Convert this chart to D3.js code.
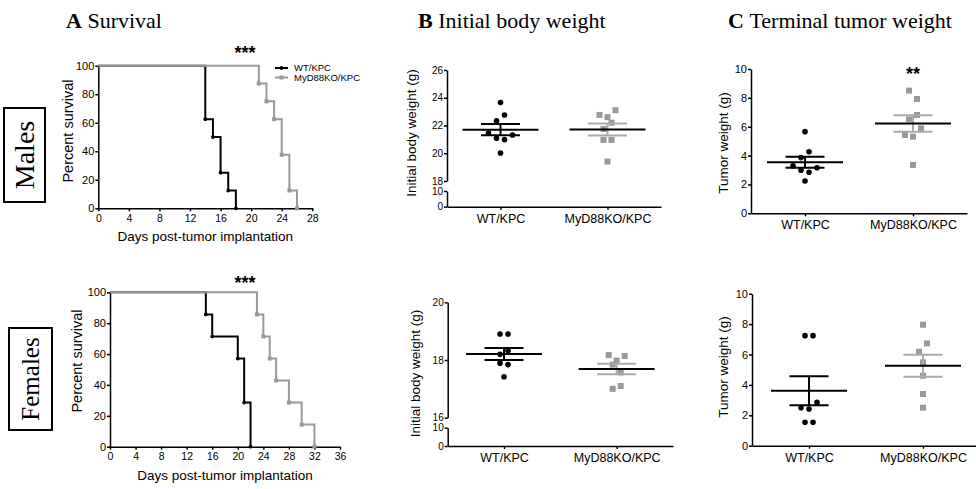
<!DOCTYPE html>
<html>
<head>
<meta charset="utf-8">
<script src="https://cdn.jsdelivr.net/npm/d3@7"></script>
<style>
  body { margin: 0; background: #fff; }
  svg { display: block; }
</style>
</head>
<body>
<div id="chart"></div>
<script>
// survival / body weight / tumor weight figure, Males + Females rows

const SANS = "'Liberation Sans', Arial, sans-serif";
const SERIF = "'Liberation Serif', 'Times New Roman', serif";
const GRAY = "#999";
const GRAY_BAR = "#aaa";

// --- data ---
const groups = ["WT/KPC", "MyD88KO/KPC"];

// Kaplan-Meier steps (day, % survival)
const maleWtDays = [0, 14, 15, 16, 17, 18];
const maleWtSurv = [100, 62.5, 50, 25, 12.5, 0];
const maleKoDays = [0, 21, 22, 23, 24, 25, 26];
const maleKoSurv = [100, 87.5, 75, 62.5, 37.5, 12.5, 0];
const femaleWtDays = [0, 15, 16, 20, 21, 22];
const femaleWtSurv = [100, 85.7, 71.4, 57.1, 28.6, 0];
const femaleKoDays = [0, 23, 24, 25, 26, 28, 30, 32];
const femaleKoSurv = [100, 85.7, 71.4, 57.1, 42.9, 28.6, 14.3, 0];

const maleDayTicks = [0, 4, 8, 12, 16, 20, 24, 28];
const femaleDayTicks = [0, 4, 8, 12, 16, 20, 24, 28, 32, 36];
const survTicks = [0, 20, 40, 60, 80, 100];

// initial body weight (g)
const maleBwWt = [23.65, 22.33, 22.76, 21.46, 21.08, 20.98, 21.32, 20.02];
const maleBwKo = [22.76, 22.6, 23.1, 21.75, 22.2, 20.96, 20.96, 19.4];
const femaleBwWt = [18.9, 18.9, 18.2, 18.32, 17.89, 17.84, 17.42];
const femaleBwKo = [18.17, 17.98, 18.14, 17.84, 17.57, 17.0, 17.1];
const maleBwTicks = [18, 20, 22, 24, 26];
const femaleBwTicks = [16, 18, 20];
const breakTicks = [0, 10];

// terminal tumor weight (g)
const maleTumorWt = [5.66, 3.86, 4.27, 3.3, 2.98, 2.84, 3.16, 2.24];
const maleTumorKo = [8.5, 7.92, 6.51, 6.81, 5.43, 5.31, 5.89, 3.35];
const femaleTumorWt = [7.24, 7.24, 2.5, 2.41, 2.85, 1.54, 1.54];
const femaleTumorKo = [7.96, 6.18, 6.73, 5.48, 4.6, 3.4, 2.5];
const tumorTicks = [0, 2, 4, 6, 8, 10];

const svg = d3.select("#chart").append("svg")
  .attr("width", 976)
  .attr("height", 489);

function styleAxis(sel, fs) {
  sel.attr("font-family", SANS).attr("font-size", fs);
  sel.select(".domain").attr("stroke", "#000").attr("stroke-width", 1.5);
  sel.selectAll(".tick line").attr("stroke", "#000").attr("stroke-width", 1.5);
  sel.selectAll(".tick text").attr("fill", "#000");
}

function yTitle(g, text, x, y, fs) {
  g.append("text")
    .attr("transform", `translate(${x},${y}) rotate(-90)`)
    .attr("text-anchor", "middle")
    .attr("font-family", SANS)
    .attr("font-size", fs)
    .text(text);
}

// --- survival panels ---
function survivalPanel(o) {
  const g = svg.append("g");
  const x = d3.scaleLinear().domain([0, o.maxDay]).range(o.xr);
  const y = d3.scaleLinear().domain([0, 100]).range(o.yr);

  g.append("g")
    .attr("transform", `translate(0,${o.yr[0]})`)
    .call(d3.axisBottom(x).tickValues(o.dayTicks).tickSize(3).tickSizeOuter(0).tickPadding(3))
    .call(styleAxis, 10.5);
  g.append("g")
    .attr("transform", `translate(${o.xr[0]},0)`)
    .call(d3.axisLeft(y).tickValues(survTicks).tickSize(3).tickSizeOuter(0).tickPadding(1))
    .call(styleAxis, 11);

  const line = d3.line().x(d => x(d[0])).y(d => y(d[1])).curve(d3.curveStepAfter);

  o.series.forEach(s => {
    const pts = s.days.map((d, i) => [d, s.surv[i]]);
    g.append("path")
      .datum(pts)
      .attr("d", line)
      .attr("fill", "none")
      .attr("stroke", s.color)
      .attr("stroke-width", 2);
    const ev = pts.slice(1);
    if (s.shape === "circle") {
      g.selectAll(null).data(ev).enter().append("circle")
        .attr("cx", d => x(d[0])).attr("cy", d => y(d[1])).attr("r", 1.9)
        .attr("fill", s.color);
    } else {
      g.selectAll(null).data(ev).enter().append("rect")
        .attr("x", d => x(d[0]) - 2).attr("y", d => y(d[1]) - 2)
        .attr("width", 4).attr("height", 4)
        .attr("fill", s.color);
    }
  });

  g.append("text")
    .attr("x", o.star[0]).attr("y", o.star[1])
    .attr("text-anchor", "middle")
    .attr("font-family", SANS).attr("font-size", 18).attr("font-weight", "bold")
    .text("***");

  yTitle(g, "Percent survival", o.yTitle[0], o.yTitle[1], 14.5);
  g.append("text")
    .attr("x", (o.xr[0] + o.xr[1]) / 2).attr("y", o.xTitleY)
    .attr("text-anchor", "middle")
    .attr("font-family", SANS).attr("font-size", 13.5)
    .text("Days post-tumor implantation");

  if (o.legend) {
    const lg = g.append("g").attr("transform", `translate(${o.legend[0]},${o.legend[1]})`);
    o.series.forEach((s, i) => {
      const row = lg.append("g").attr("transform", `translate(0,${i * 9.5})`);
      row.append("line").attr("x1", 0).attr("x2", 13).attr("y1", 0).attr("y2", 0)
        .attr("stroke", s.color).attr("stroke-width", 2);
      if (s.shape === "circle") {
        row.append("circle").attr("cx", 6.5).attr("cy", 0).attr("r", 1.9).attr("fill", s.color);
      } else {
        row.append("rect").attr("x", 4.5).attr("y", -2).attr("width", 4).attr("height", 4).attr("fill", s.color);
      }
      row.append("text").attr("x", 19).attr("y", 3.4)
        .attr("font-family", SANS).attr("font-size", 9.5)
        .text(s.name);
    });
  }
}

// spread points that sit on nearly the same height (column scatter)
function swarm(vals, y, thresh = 9, step = 8) {
  const order = d3.range(vals.length).sort((a, b) => y(vals[a]) - y(vals[b]));
  const offs = new Array(vals.length).fill(0);
  let i = 0;
  while (i < order.length) {
    const y0 = y(vals[order[i]]);
    let j = i;
    while (j < order.length && y(vals[order[j]]) - y0 < thresh) j++;
    const grp = order.slice(i, j).sort((a, b) => a - b);
    grp.forEach((k, n) => { offs[k] = (n - (grp.length - 1) / 2) * step; });
    i = j;
  }
  return offs;
}

// --- scatter panels (mean +/- SEM) ---
function scatterPanel(o) {
  const g = svg.append("g");
  const x = d3.scalePoint().domain(groups).range(o.xr).padding(0.5);
  const y = d3.scaleLinear().domain(o.domain).range(o.yr);

  g.append("g")
    .attr("transform", `translate(0,${o.xAxisY})`)
    .call(d3.axisBottom(x).tickSize(3).tickSizeOuter(0).tickPadding(4))
    .call(styleAxis, 12.5);
  g.append("g")
    .attr("transform", `translate(${o.xr[0]},0)`)
    .call(d3.axisLeft(y).tickValues(o.ticks).tickFormat(d3.format("d"))
      .tickSize(3).tickSizeOuter(0).tickPadding(1))
    .call(styleAxis, o.lowerYr ? 10 : 11);

  if (o.lowerYr) {
    const y2 = d3.scaleLinear().domain([0, 10]).range(o.lowerYr);
    g.append("g")
      .attr("transform", `translate(${o.xr[0]},0)`)
      .call(d3.axisLeft(y2).tickValues(breakTicks).tickSize(3).tickSizeOuter(0).tickPadding(1))
      .call(styleAxis, 10);
  }

  o.sets.forEach((vals, gi) => {
    const cx = x(groups[gi]);
    const offs = swarm(vals, y);
    if (gi === 0) {
      g.selectAll(null).data(vals).enter().append("circle")
        .attr("cx", (d, i) => cx + offs[i]).attr("cy", d => y(d)).attr("r", 2.8)
        .attr("fill", "#000");
    } else {
      g.selectAll(null).data(vals).enter().append("rect")
        .attr("x", (d, i) => cx + offs[i] - 3).attr("y", d => y(d) - 3)
        .attr("width", 6).attr("height", 6)
        .attr("fill", GRAY);
    }

    const m = d3.mean(vals);
    const sem = d3.deviation(vals) / Math.sqrt(vals.length);
    const barColor = gi === 0 ? "#000" : GRAY_BAR;
    const bars = g.append("g").attr("stroke", barColor).attr("stroke-width", 2);
    bars.append("line").attr("x1", cx).attr("x2", cx).attr("y1", y(m + sem)).attr("y2", y(m - sem));
    [m + sem, m - sem].forEach(v => {
      bars.append("line").attr("x1", cx - 19.5).attr("x2", cx + 19.5).attr("y1", y(v)).attr("y2", y(v));
    });
    g.append("line")
      .attr("x1", cx - 38).attr("x2", cx + 38)
      .attr("y1", y(m)).attr("y2", y(m))
      .attr("stroke", "#000").attr("stroke-width", 2);
  });

  if (o.star) {
    g.append("text")
      .attr("x", x(groups[1])).attr("y", o.star)
      .attr("text-anchor", "middle")
      .attr("font-family", SANS).attr("font-size", 18).attr("font-weight", "bold")
      .text("**");
  }

  yTitle(g, o.title, o.yTitle[0], o.yTitle[1], 13.5);
}

// --- panel titles ---
[["A", "Survival", 66], ["B", "Initial body weight", 418], ["C", "Terminal tumor weight", 728]].forEach(t => {
  const tx = svg.append("text")
    .attr("x", t[2]).attr("y", 28)
    .attr("font-family", SERIF).attr("font-size", 22);
  tx.append("tspan").attr("font-weight", "bold").text(t[0]);
  tx.append("tspan").text("\u00a0" + t[1]);
});

// --- row labels ---
function rowLabel(text, x, y, w, h, fs) {
  svg.append("rect")
    .attr("x", x).attr("y", y).attr("width", w).attr("height", h)
    .attr("fill", "none").attr("stroke", "#000").attr("stroke-width", 2);
  svg.append("text")
    .attr("transform", `translate(${x + w / 2 + fs * 0.35},${y + h / 2}) rotate(-90)`)
    .attr("text-anchor", "middle")
    .attr("font-family", SERIF).attr("font-size", fs)
    .text(text);
}
rowLabel("Males", 4, 108, 41, 94, 28);
rowLabel("Females", 9, 328, 43, 102, 25);

// --- draw panels ---
survivalPanel({
  xr: [98.3, 312.3], yr: [208.3, 65.7], maxDay: 28, dayTicks: maleDayTicks,
  series: [
    { name: groups[0], days: maleWtDays, surv: maleWtSurv, color: "#000", shape: "circle" },
    { name: groups[1], days: maleKoDays, surv: maleKoSurv, color: GRAY, shape: "square" }
  ],
  star: [245, 59], yTitle: [72.5, 131], xTitleY: 240.5, legend: [275, 68]
});

survivalPanel({
  xr: [110, 340], yr: [446.7, 292.3], maxDay: 36, dayTicks: femaleDayTicks,
  series: [
    { name: groups[0], days: femaleWtDays, surv: femaleWtSurv, color: "#000", shape: "circle" },
    { name: groups[1], days: femaleKoDays, surv: femaleKoSurv, color: GRAY, shape: "square" }
  ],
  star: [245, 289], yTitle: [81.5, 361], xTitleY: 479.5
});

scatterPanel({
  xr: [447, 661], domain: [18, 26], yr: [181, 70], lowerYr: [206.7, 191], xAxisY: 206.7,
  ticks: maleBwTicks, sets: [maleBwWt, maleBwKo],
  title: "Initial body weight (g)", yTitle: [416, 133]
});

scatterPanel({
  xr: [447.7, 673], domain: [16, 20], yr: [417.7, 302.3], lowerYr: [446, 427.7], xAxisY: 446,
  ticks: femaleBwTicks, sets: [femaleBwWt, femaleBwKo],
  title: "Initial body weight (g)", yTitle: [420, 373.5]
});

scatterPanel({
  xr: [751, 967], domain: [0, 10], yr: [213.3, 69], xAxisY: 213.3,
  ticks: tumorTicks, sets: [maleTumorWt, maleTumorKo],
  title: "Tumor weight (g)", yTitle: [728, 143], star: 79.5
});

scatterPanel({
  xr: [752, 980], domain: [0, 10], yr: [445.7, 293.7], xAxisY: 445.7,
  ticks: tumorTicks, sets: [femaleTumorWt, femaleTumorKo],
  title: "Tumor weight (g)", yTitle: [728, 367]
});
</script>
</body>
</html>
